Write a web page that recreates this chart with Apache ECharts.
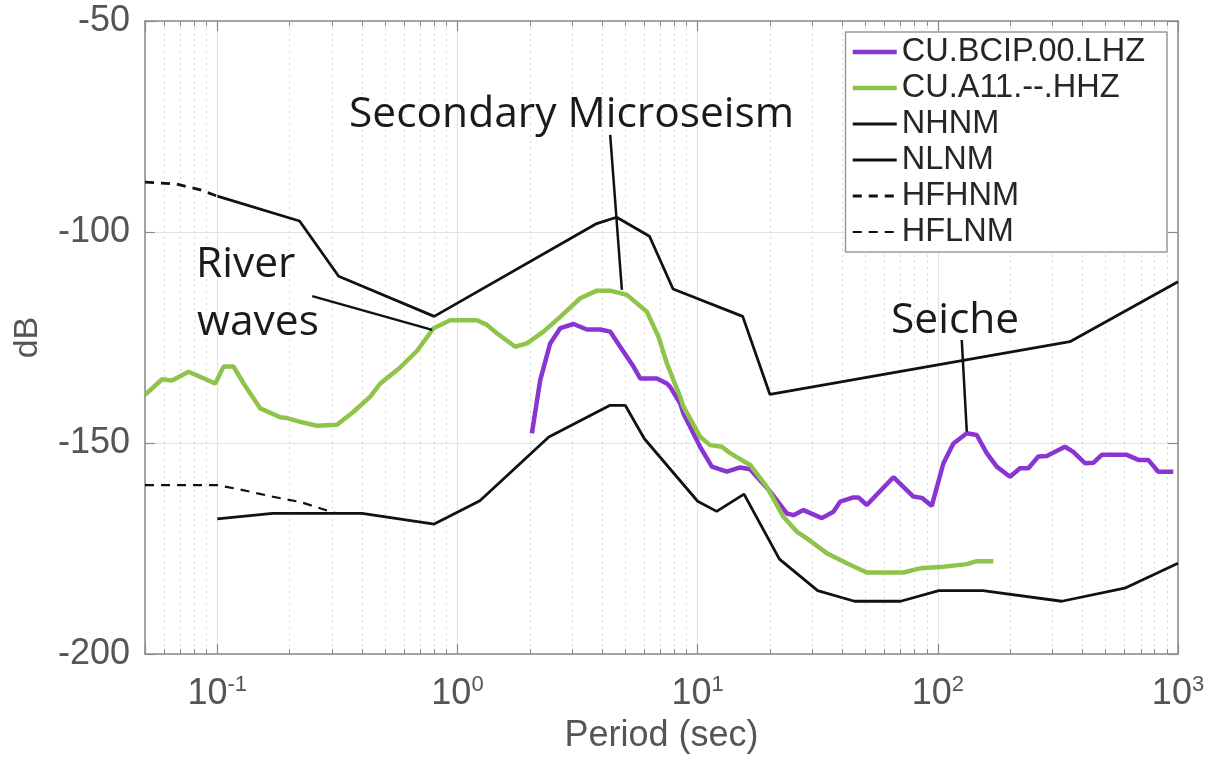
<!DOCTYPE html>
<html>
<head>
<meta charset="utf-8">
<script src="https://cdn.jsdelivr.net/npm/echarts@6/dist/echarts.min.js"></script>
<style>
  html, body { margin: 0; padding: 0; background: #ffffff; }
  #chart { width: 1217px; height: 761px; }
</style>
</head>
<body>
<div id="chart"></div>
<script>
// ---- Noise models: period (s) and PSD (dB) ----
const nhnmPeriod = [0.1, 0.22, 0.32, 0.8, 3.8, 4.6, 6.3, 7.9, 15.4, 20, 354.8, 1000];
const nhnmDb = [-91.5, -97.4, -110.5, -120.0, -98.0, -96.5, -101.0, -113.5, -120.0, -138.5, -126.0, -111.8];

const nlnmPeriod = [0.1, 0.17, 0.4, 0.8, 1.24, 2.4, 4.3, 5.0, 6.0, 10, 12, 15.6, 21.9, 31.6, 45, 70, 101, 154, 328, 600, 1000];
const nlnmDb = [-168.0, -166.7, -166.7, -169.2, -163.7, -148.6, -141.1, -141.1, -149.0, -163.8, -166.2, -162.1, -177.5, -185.0, -187.5, -187.5, -185.0, -185.0, -187.5, -184.4, -178.5];

// high-frequency extensions of the models
const hfhnmPeriod = [0.05, 0.067, 0.085, 0.1];
const hfhnmDb = [-88.2, -88.6, -90.0, -91.5];

const hflnmPeriod = [0.05, 0.1, 0.122, 0.166, 0.222, 0.31];
const hflnmDb = [-160.0, -160.0, -160.9, -162.6, -164.0, -166.6];

// ---- Station PSD curves ----
const bcipPeriod = [2.041, 2.21, 2.433, 2.678, 3.042, 3.458, 3.928, 4.323, 4.757, 5.405, 5.765, 6.764, 7.443, 7.683, 8.455, 8.728,
  10.24, 11.46, 13.22, 15.03, 16.54, 20.04, 23.51, 25.05, 27.56, 32.89, 36.76, 39.19, 44.51, 46.7, 50.62, 65.32, 79.1, 85.76, 94.37,
  105.5, 116.1, 132.0, 145.2, 159.8, 175.9, 199.8, 219.9, 238.2, 262.1, 284.0, 338.4, 366.6, 410.1, 444.1, 481.3, 611.6, 683.6, 752.0, 827.8, 955.6];
const bcipDb = [-147.7, -135.1, -126.4, -122.8, -121.8, -123.1, -123.1, -123.6, -127.2, -131.9, -134.7, -134.7, -135.9, -136.7, -140.6, -143.0,
  -150.9, -155.6, -156.8, -155.8, -156.2, -161.5, -166.7, -167.1, -165.9, -167.8, -166.3, -163.9, -162.9, -162.9, -164.7, -158.1, -162.7, -163.0, -164.9,
  -154.8, -150.1, -147.7, -148.1, -152.4, -155.6, -158.0, -156.0, -156.0, -153.2, -153.1, -150.9, -152.1, -154.8, -154.7, -152.8, -152.8, -154.0, -154.0, -156.8, -156.8];

const a11Period = [0.05, 0.0589, 0.0648, 0.076, 0.0981, 0.1062, 0.1169, 0.1287, 0.151, 0.1829, 0.1951, 0.2215, 0.26, 0.3149, 0.3693,
  0.4334, 0.4771, 0.5776, 0.6779, 0.7949, 0.9329, 1.205, 1.3265, 1.459, 1.74, 1.946, 2.281, 2.678, 3.244, 3.805, 4.323, 5.075, 6.145,
  6.867, 7.443, 7.931, 8.455, 8.728, 10.24, 11.27, 12.61, 13.65, 16.54, 19.41, 22.76, 25.87, 28.48, 34.49, 41.78, 50.62, 71.89, 84.36,
  105.5, 132.0, 145.2, 170.3];
const a11Db = [-138.6, -134.9, -135.2, -133.1, -135.9, -131.9, -131.9, -135.9, -141.8, -143.9, -144.1, -145.0, -145.9, -145.7, -142.6,
  -139.0, -135.9, -132.1, -128.2, -122.8, -120.9, -120.9, -122.0, -124.0, -127.2, -126.4, -123.6, -120.1, -115.7, -113.9, -113.9, -114.9, -118.9,
  -124.8, -131.1, -135.1, -139.0, -141.4, -148.5, -150.5, -150.9, -152.4, -155.2, -160.4, -167.5, -171.0, -172.6, -176.1, -178.5, -180.7, -180.7, -179.7,
  -179.3, -178.7, -178.0, -178.0];

// ---- Annotation pointers: [period, dB] end points ----
const microseismPointer = [[4.323, -77.0], [4.836, -113.7]];
const riverPointer = [[0.2485, -115.2], [0.785, -123.2]];
const seichePointer = [[125.8, -125.6], [132.0, -147.3]];

// ---- Axis settings ----
const periodMin = 0.05, periodMax = 1000;
const dbMin = -200, dbMax = -50, dbStep = 50;

const seriesNames = ['CU.BCIP.00.LHZ', 'CU.A11.--.HHZ', 'NHNM', 'NLNM', 'HFHNM', 'HFLNM'];

function pairs(xs, ys) { return xs.map((x, i) => [x, ys[i]]); }

const axisGray = '#8a8a8a';
const labelGray = '#555555';
const sansFont = '"Liberation Sans", Arial, sans-serif';
const noteFont = '"Open Sans", sans-serif';
const noteSize = 42.5;

function isDecade(v) {
  const e = Math.log10(v);
  return Math.abs(e - Math.round(e)) < 1e-6;
}

function lineSeries(name, data, color, width, type, z) {
  return {
    name: name, type: 'line', data: data,
    showSymbol: false, symbol: 'none', smooth: false, z: z,
    lineStyle: { color: color, width: width, type: type || 'solid' },
    itemStyle: { color: color },
    emphasis: { disabled: true }
  };
}

function pointerSeries(name, data) {
  return {
    name: name, type: 'line', data: data, silent: true,
    showSymbol: false, symbol: 'none', z: 5,
    lineStyle: { color: '#111111', width: 2.5 },
    emphasis: { disabled: true }
  };
}

function note(text, left, top) {
  return {
    type: 'text', left: left, top: top, z: 10, silent: true,
    style: { text: text, font: noteSize + 'px ' + noteFont, fill: '#1a1a1a' }
  };
}

const chart = echarts.init(document.getElementById('chart'), null, { renderer: 'canvas' });

chart.setOption({
  animation: false,
  backgroundColor: '#ffffff',
  grid: { left: 145, right: 39, top: 21, bottom: 107, containLabel: false },
  legend: {
    data: seriesNames,
    orient: 'vertical',
    right: 50, top: 32,
    backgroundColor: '#ffffff',
    borderColor: '#9a9a9a', borderWidth: 1.5,
    padding: [2, 22, 2, 5],
    itemWidth: 44, itemHeight: 14, itemGap: 0,
    selectedMode: false,
    itemStyle: { opacity: 0 },
    lineStyle: { width: 'inherit' },
    textStyle: { fontFamily: sansFont, fontSize: 32.5, color: '#262626', lineHeight: 36 }
  },
  xAxis: [{
    type: 'log', logBase: 10, min: periodMin, max: periodMax,
    position: 'bottom',
    name: 'Period (sec)', nameLocation: 'middle', nameGap: 64,
    nameTextStyle: { fontFamily: sansFont, fontSize: 36, color: labelGray },
    axisLine: { show: true, onZero: false, lineStyle: { color: axisGray, width: 1.5 } },
    axisTick: { show: true, inside: true, length: 10, lineStyle: { color: axisGray, width: 1.2 } },
    minorTick: { show: true, splitNumber: 9, length: 5, lineStyle: { color: axisGray, width: 1 } },
    splitLine: { show: true, lineStyle: { color: '#e3e3e3', width: 1.2 } },
    minorSplitLine: { show: true, lineStyle: { color: '#d6d6d6', width: 1, type: [2, 4] } },
    axisLabel: {
      margin: 20, showMinLabel: true, showMaxLabel: true,
      formatter: function (v) {
        if (!isDecade(v)) return '';
        const e = Math.round(Math.log10(v));
        return '{b|10}{s|' + e + '}';
      },
      rich: {
        b: { fontFamily: sansFont, fontSize: 36, color: labelGray, lineHeight: 40 },
        s: { fontFamily: sansFont, fontSize: 22, color: labelGray, lineHeight: 14, verticalAlign: 'top' }
      }
    }
  }, {
    type: 'log', logBase: 10, min: periodMin, max: periodMax,
    position: 'top',
    axisLine: { show: true, onZero: false, lineStyle: { color: axisGray, width: 1.5 } },
    axisTick: { show: true, inside: true, length: 10, lineStyle: { color: axisGray, width: 1.2 } },
    minorTick: { show: true, splitNumber: 9, length: 5, lineStyle: { color: axisGray, width: 1 } },
    splitLine: { show: false },
    axisLabel: { show: false }
  }],
  yAxis: [{
    type: 'value', min: dbMin, max: dbMax, interval: dbStep,
    position: 'left',
    name: 'dB', nameLocation: 'middle', nameGap: 100,
    nameTextStyle: { fontFamily: sansFont, fontSize: 34, color: labelGray },
    axisLine: { show: true, onZero: false, lineStyle: { color: axisGray, width: 1.5 } },
    axisTick: { show: true, inside: true, length: 10, lineStyle: { color: axisGray, width: 1.2 } },
    splitLine: { show: true, lineStyle: { color: '#e3e3e3', width: 1.2 } },
    axisLabel: { margin: 15, fontFamily: sansFont, fontSize: 36, color: labelGray }
  }, {
    type: 'value', min: dbMin, max: dbMax, interval: dbStep,
    position: 'right',
    axisLine: { show: true, onZero: false, lineStyle: { color: axisGray, width: 1.5 } },
    axisTick: { show: true, inside: true, length: 10, lineStyle: { color: axisGray, width: 1.2 } },
    splitLine: { show: false },
    axisLabel: { show: false }
  }],
  series: [
    lineSeries('CU.BCIP.00.LHZ', pairs(bcipPeriod, bcipDb), '#8b34d4', 4.5, 'solid', 3),
    lineSeries('CU.A11.--.HHZ', pairs(a11Period, a11Db), '#8dc449', 4.5, 'solid', 3),
    lineSeries('NHNM', pairs(nhnmPeriod, nhnmDb), '#111111', 2.8, 'solid', 4),
    lineSeries('NLNM', pairs(nlnmPeriod, nlnmDb), '#111111', 2.8, 'solid', 4),
    lineSeries('HFHNM', pairs(hfhnmPeriod, hfhnmDb), '#111111', 2.8, [9, 7], 4),
    lineSeries('HFLNM', pairs(hflnmPeriod, hflnmDb), '#111111', 2.2, [9, 7], 4),
    pointerSeries('microseismPointer', microseismPointer),
    pointerSeries('riverPointer', riverPointer),
    pointerSeries('seichePointer', seichePointer)
  ],
  graphic: [
    note('Secondary Microseism', 349, 93),
    note('River', 196, 243),
    note('waves', 197, 301),
    note('Seiche', 891, 299)
  ]
});
</script>
</body>
</html>
